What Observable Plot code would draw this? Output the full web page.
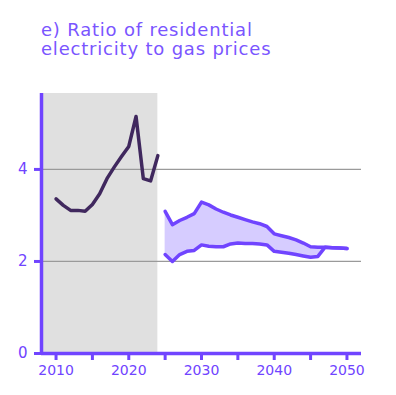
<!DOCTYPE html>
<html><head><meta charset="utf-8">
<script src="https://cdn.jsdelivr.net/npm/d3@7"></script>
<script src="https://cdn.jsdelivr.net/npm/@observablehq/plot@0.6"></script>
<style>
body{margin:0;background:#fff;}
#wrap{position:relative;width:396px;height:395px;}
.title{position:absolute;left:41px;font-family:"DejaVu Sans",sans-serif;font-size:18px;line-height:18px;height:18px;color:#7a55ff;letter-spacing:0.8px;white-space:nowrap;}
#t1{top:21px;} #t2{top:40px;}
#chart{position:absolute;left:0;top:0;}
</style></head>
<body>
<div id="wrap"><div id="chart"></div><div class="title" id="t1">e) Ratio of residential</div><div class="title" id="t2">electricity to gas prices</div></div>
<script>
const histYears = [2010,2011,2012,2013,2014,2015,2016,2017,2018,2019,2020,2021,2022,2023,2024];
const histRatio = [3.36,3.22,3.11,3.11,3.09,3.24,3.47,3.80,4.05,4.28,4.50,5.15,3.80,3.75,4.30];
const projYears = [2025,2026,2027,2028,2029,2030,2031,2032,2033,2034,2035,2036,2037,2038,2039,2040,2041,2042,2043,2044,2045,2046,2047,2048,2049,2050];
const projHigh = [3.09,2.80,2.89,2.96,3.04,3.29,3.23,3.14,3.07,3.01,2.96,2.91,2.86,2.82,2.76,2.60,2.56,2.52,2.47,2.40,2.32,2.31,2.31,2.30,2.29,2.28];
const projLow  = [2.15,2.00,2.15,2.22,2.24,2.36,2.33,2.32,2.32,2.38,2.40,2.39,2.39,2.38,2.36,2.22,2.20,2.18,2.15,2.12,2.09,2.11,2.31,2.30,2.29,2.28];
const yTicks = [0,2,4];
const gridTicks = [2,4];
const xLabelTicks = [2010,2020,2030,2040,2050];
const xAllTicks = [2010,2015,2020,2025,2030,2035,2040,2045,2050];
const xDomain = [2008,2052];
const yDomain = [0,5.65];
const historyEnd = 2024;

const hist = histYears.map((y,i)=>({year:y, v:histRatio[i]}));
const proj = projYears.map((y,i)=>({year:y, hi:projHigh[i], lo:projLow[i]}));
const violet = "#7044ff";

const chart = Plot.plot({
  width:396, height:395,
  marginLeft:41, marginRight:35, marginTop:93, marginBottom:42,
  style:{fontFamily:"DejaVu Sans, sans-serif", fontSize:"14px", color:violet, background:"transparent"},
  x:{type:"linear", domain:xDomain, axis:null},
  y:{type:"linear", domain:yDomain, axis:null},
  marks:[
    Plot.rect([{x1:xDomain[0], x2:historyEnd, y1:yDomain[0], y2:yDomain[1]}],{x1:"x1", x2:"x2", y1:"y1", y2:"y2", fill:"#e0e0e0"}),
    Plot.ruleY(gridTicks,{x1:xDomain[0], x2:xDomain[1], stroke:"#9a9a9a", strokeWidth:1.3}),
    Plot.areaY(proj,{x:"year", y1:"lo", y2:"hi", fill:"#d6ccff"}),
    Plot.line(proj,{x:"year", y:"hi", stroke:violet, strokeWidth:3.5, strokeLinejoin:"round"}),
    Plot.line(proj,{x:"year", y:"lo", stroke:violet, strokeWidth:3.5, strokeLinejoin:"round"}),
    Plot.line(hist,{x:"year", y:"v", stroke:"#40285e", strokeWidth:3.5, strokeLinejoin:"round"}),
    Plot.ruleX([xDomain[0]],{y1:yDomain[0], y2:yDomain[1], stroke:violet, strokeWidth:3.5}),
    Plot.ruleY([0],{x1:xDomain[0], x2:xDomain[1], stroke:violet, strokeWidth:3.5}),
    Plot.axisY(yTicks,{tickSize:7, tickPadding:7, tickFormat:d=>String(d), stroke:violet, strokeWidth:3, fill:violet, fontSize:15, label:null}),
    Plot.axisX(xAllTicks,{tickSize:7, tickPadding:5, tickFormat:d=>xLabelTicks.includes(d)?String(d):"", stroke:violet, strokeWidth:3, fill:violet, fontSize:14, label:null})
  ]
});
document.getElementById("chart").appendChild(chart);
</script>
</body></html>
